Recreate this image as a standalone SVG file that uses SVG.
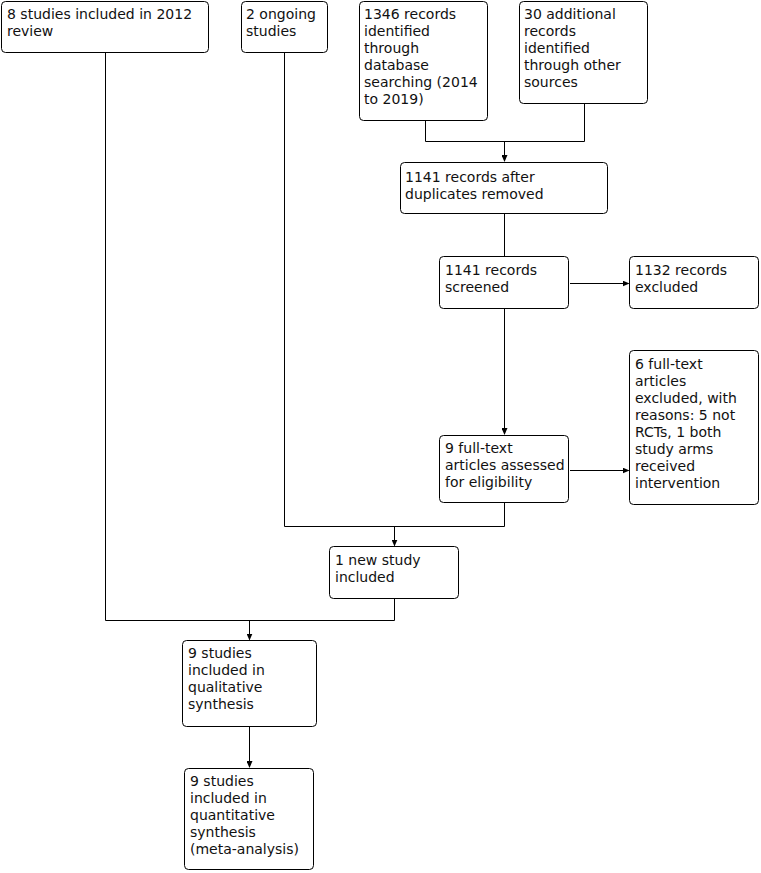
<svg xmlns="http://www.w3.org/2000/svg" width="761" height="873" viewBox="0 0 761 873">
<style>
.box{fill:#fff;stroke:#000;stroke-width:1}
.t{font-family:"DejaVu Sans",Verdana,sans-serif;font-size:14px;fill:#111}
.c{fill:none;stroke:#000;stroke-width:1}
</style>
<defs>
<marker id="ah" markerWidth="7" markerHeight="6" refX="6" refY="3" orient="auto" markerUnits="userSpaceOnUse">
<path d="M0,0 L7,3 L0,6 Z" fill="#000"/>
</marker>
</defs>
<rect width="761" height="873" fill="#fff"/>
<g id="connectors">
<path class="c" d="M425.5,121 V141.5 H584.5 V104"/>
<path class="c" d="M504.5,141.5 V161" marker-end="url(#ah)"/>
<path class="c" d="M504.5,214 V256.5"/>
<path class="c" d="M570,283.5 H628.5" marker-end="url(#ah)"/>
<path class="c" d="M504.5,309 V434" marker-end="url(#ah)"/>
<path class="c" d="M570,470.5 H628.5" marker-end="url(#ah)"/>
<path class="c" d="M504.5,503 V526.5 H284.5 V53"/>
<path class="c" d="M394.5,526.5 V545.5" marker-end="url(#ah)"/>
<path class="c" d="M394.5,599 V620.5 H105.5 V53"/>
<path class="c" d="M249.5,620.5 V639.5" marker-end="url(#ah)"/>
<path class="c" d="M249.5,727 V767" marker-end="url(#ah)"/>
</g>
<g id="n1"><rect class="box" x="1.5" y="1.5" width="207" height="51" rx="4"/>
<text class="t" x="7" y="19">8 studies included in 2012</text><text class="t" x="7" y="36">review</text></g>
<g id="n2"><rect class="box" x="241.5" y="1.5" width="86" height="51" rx="4"/>
<text class="t" x="246" y="19">2 ongoing</text><text class="t" x="246" y="36">studies</text></g>
<g id="n3"><rect class="box" x="359.5" y="1.5" width="128" height="119" rx="4"/>
<text class="t" x="364" y="19">1346 records</text><text class="t" x="364" y="36">identified</text><text class="t" x="364" y="53">through</text><text class="t" x="364" y="70">database</text><text class="t" x="364" y="87">searching (2014</text><text class="t" x="364" y="104">to 2019)</text></g>
<g id="n4"><rect class="box" x="519.5" y="1.5" width="128" height="102" rx="4"/>
<text class="t" x="524" y="19">30 additional</text><text class="t" x="524" y="36">records</text><text class="t" x="524" y="53">identified</text><text class="t" x="524" y="70">through other</text><text class="t" x="524" y="87">sources</text></g>
<g id="n5"><rect class="box" x="400.5" y="162.5" width="207" height="51" rx="4"/>
<text class="t" x="405" y="182">1141 records after</text><text class="t" x="405" y="199">duplicates removed</text></g>
<g id="n6"><rect class="box" x="439.5" y="256.5" width="129" height="52" rx="4"/>
<text class="t" x="445" y="275">1141 records</text><text class="t" x="445" y="292">screened</text></g>
<g id="n7"><rect class="box" x="629.5" y="256.5" width="129" height="52" rx="4"/>
<text class="t" x="635" y="275">1132 records</text><text class="t" x="635" y="292">excluded</text></g>
<g id="n8"><rect class="box" x="439.5" y="435.5" width="129" height="67" rx="4"/>
<text class="t" x="445" y="453">9 full-text</text><text class="t" x="445" y="470">articles assessed</text><text class="t" x="445" y="487">for eligibility</text></g>
<g id="n9"><rect class="box" x="629.5" y="350.5" width="129" height="154" rx="4"/>
<text class="t" x="635" y="369">6 full-text</text><text class="t" x="635" y="386">articles</text><text class="t" x="635" y="403">excluded, with</text><text class="t" x="635" y="420">reasons: 5 not</text><text class="t" x="635" y="437">RCTs, 1 both</text><text class="t" x="635" y="454">study arms</text><text class="t" x="635" y="471">received</text><text class="t" x="635" y="488">intervention</text></g>
<g id="n10"><rect class="box" x="329.5" y="546.5" width="129" height="52" rx="4"/>
<text class="t" x="335" y="565">1 new study</text><text class="t" x="335" y="582">included</text></g>
<g id="n11"><rect class="box" x="182.5" y="640.5" width="134" height="86" rx="4"/>
<text class="t" x="188" y="658">9 studies</text><text class="t" x="188" y="675">included in</text><text class="t" x="188" y="692">qualitative</text><text class="t" x="188" y="709">synthesis</text></g>
<g id="n12"><rect class="box" x="184.5" y="768.5" width="129" height="101" rx="4"/>
<text class="t" x="190" y="786">9 studies</text><text class="t" x="190" y="803">included in</text><text class="t" x="190" y="820">quantitative</text><text class="t" x="190" y="837">synthesis</text><text class="t" x="190" y="854">(meta-analysis)</text></g>
</svg>
